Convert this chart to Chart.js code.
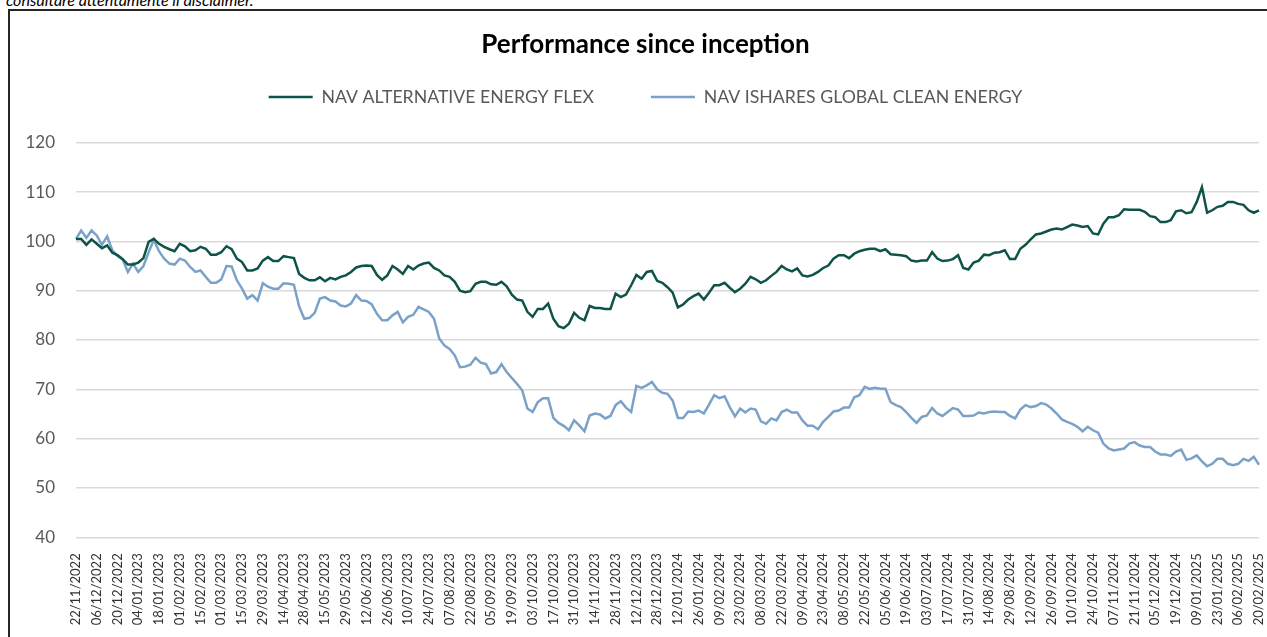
<!DOCTYPE html>
<html lang="it">
<head>
<meta charset="utf-8">
<title>Performance since inception</title>
<script src="https://cdn.jsdelivr.net/npm/chart.js@4/dist/chart.umd.min.js"></script>
<style>
  html, body {
    margin: 0;
    padding: 0;
    background: #ffffff;
    overflow: hidden;
  }
  .note {
    position: absolute;
    left: 6px;
    top: -8px;
    font-family: "Lato", sans-serif;
    font-style: italic;
    font-size: 16px;
    line-height: 16px;
    color: #000000;
    white-space: nowrap;
  }
  .frame {
    position: absolute;
    left: 8px;
    top: 9px;
    width: 1400px;
    height: 800px;
    border: 2px solid #262626;
  }
  #perfChart {
    position: absolute;
    left: 0;
    top: 0;
  }
</style>
</head>
<body>
<div class="note">consultare attentamente il disclaimer.</div>
<div class="frame"></div>
<canvas id="perfChart" width="1267" height="637"></canvas>

<script>
/* =============================================
   Performance since inception - NAV vs benchmark
   ============================================= */

// x-axis labels: one every 10 trading days
const tickLabels = [
  "22/11/2022", "06/12/2022", "20/12/2022", "04/01/2023", "18/01/2023",
  "01/02/2023", "15/02/2023", "01/03/2023", "15/03/2023", "29/03/2023",
  "14/04/2023", "28/04/2023", "15/05/2023", "29/05/2023", "12/06/2023",
  "26/06/2023", "10/07/2023", "24/07/2023", "07/08/2023", "22/08/2023",
  "05/09/2023", "19/09/2023", "03/10/2023", "17/10/2023", "31/10/2023",
  "14/11/2023", "28/11/2023", "12/12/2023", "28/12/2023", "12/01/2024",
  "26/01/2024", "09/02/2024", "23/02/2024", "08/03/2024", "22/03/2024",
  "09/04/2024", "23/04/2024", "08/05/2024", "22/05/2024", "05/06/2024",
  "19/06/2024", "03/07/2024", "17/07/2024", "31/07/2024", "14/08/2024",
  "29/08/2024", "12/09/2024", "26/09/2024", "10/10/2024", "24/10/2024",
  "07/11/2024", "21/11/2024", "05/12/2024", "19/12/2024", "09/01/2025",
  "23/01/2025", "06/02/2025", "20/02/2025",
];

// 4 readings between two labels (every ~2.5 trading days)
const POINTS_PER_TICK = 4;

// NAV ALTERNATIVE ENERGY FLEX (base 100)
const navFlex = [
  100.5, 100.5, 99.3, 100.4, 99.5, 98.6, 99.2, 97.7, 97.2, 96.4,
  95.3, 95.3, 95.7, 96.6, 99.9, 100.5, 99.5, 98.9, 98.4, 98.0,
  99.5, 99.0, 98.0, 98.2, 98.9, 98.5, 97.3, 97.3, 97.8, 99.0,
  98.4, 96.5, 95.8, 94.1, 94.1, 94.5, 96.1, 96.8, 96.0, 96.0,
  97.0, 96.8, 96.6, 93.4, 92.6, 92.1, 92.1, 92.7, 91.9, 92.6,
  92.3, 92.8, 93.1, 93.8, 94.7, 95.0, 95.1, 95.0, 93.2, 92.2,
  93.1, 95.0, 94.3, 93.4, 95.0, 94.3, 95.1, 95.5, 95.7, 94.6,
  94.1, 93.1, 92.8, 91.8, 90.0, 89.7, 89.9, 91.4, 91.8, 91.8,
  91.3, 91.2, 91.8, 90.9, 89.2, 88.2, 88.0, 85.7, 84.7, 86.3,
  86.3, 87.4, 84.3, 82.8, 82.4, 83.3, 85.5, 84.5, 84.0, 86.9,
  86.5, 86.5, 86.3, 86.3, 89.4, 88.7, 89.2, 91.1, 93.2, 92.4,
  93.8, 94.0, 92.0, 91.6, 90.7, 89.6, 86.6, 87.2, 88.2, 88.9,
  89.4, 88.2, 89.6, 91.1, 91.1, 91.6, 90.6, 89.7, 90.4, 91.4,
  92.8, 92.3, 91.6, 92.1, 93.0, 93.8, 95.0, 94.3, 93.9, 94.5,
  93.1, 92.9, 93.2, 93.8, 94.6, 95.1, 96.5, 97.2, 97.2, 96.6,
  97.5, 98.0, 98.3, 98.5, 98.5, 98.0, 98.4, 97.4, 97.3, 97.2,
  97.0, 96.1, 95.9, 96.1, 96.1, 97.8, 96.5, 96.0, 96.1, 96.4,
  97.2, 94.6, 94.3, 95.7, 96.1, 97.3, 97.2, 97.7, 97.8, 98.2,
  96.4, 96.4, 98.5, 99.3, 100.4, 101.4, 101.6, 102.0, 102.4, 102.6,
  102.4, 102.9, 103.4, 103.2, 102.9, 103.1, 101.6, 101.4, 103.6, 104.9,
  104.9, 105.3, 106.5, 106.4, 106.4, 106.4, 106.0, 105.1, 104.9, 103.9,
  103.9, 104.3, 106.1, 106.3, 105.7, 105.9, 108.0, 111.0, 105.8, 106.3,
  107.0, 107.2, 108.0, 108.0, 107.6, 107.4, 106.3, 105.8, 106.3,
];

// NAV ISHARES GLOBAL CLEAN ENERGY (base 100)
const navClean = [
  100.5, 102.2, 100.7, 102.2, 101.2, 99.3, 101.0, 98.2, 97.0, 96.3,
  93.8, 95.5, 93.8, 95.0, 97.8, 100.3, 98.0, 96.5, 95.5, 95.3,
  96.5, 96.1, 94.8, 93.8, 94.1, 92.8, 91.6, 91.6, 92.3, 95.0,
  94.9, 92.1, 90.4, 88.4, 89.1, 88.0, 91.5, 90.8, 90.4, 90.4,
  91.5, 91.4, 91.2, 86.8, 84.3, 84.5, 85.5, 88.4, 88.7, 88.0,
  87.8, 87.0, 86.8, 87.4, 89.1, 88.0, 87.9, 87.2, 85.3, 84.0,
  84.0, 85.0, 85.7, 83.6, 84.7, 85.1, 86.7, 86.2, 85.7, 84.3,
  80.3, 78.9, 78.2, 76.9, 74.5, 74.6, 75.0, 76.4, 75.4, 75.1,
  73.2, 73.5, 75.1, 73.5, 72.3, 71.1, 69.8, 66.1, 65.4, 67.4,
  68.2, 68.2, 64.2, 63.2, 62.6, 61.7, 63.7, 62.7, 61.5, 64.7,
  65.1, 64.9, 64.1, 64.6, 66.8, 67.6, 66.3, 65.4, 70.7, 70.3,
  70.8, 71.5, 70.0, 69.3, 69.1, 67.7, 64.2, 64.2, 65.5, 65.4,
  65.7, 65.1, 66.9, 68.8, 68.2, 68.6, 66.4, 64.5, 66.1, 65.3,
  66.1, 65.9, 63.5, 63.0, 64.1, 63.7, 65.4, 65.9, 65.3, 65.3,
  63.7, 62.6, 62.6, 61.9, 63.4, 64.4, 65.5, 65.7, 66.3, 66.3,
  68.4, 68.8, 70.5, 70.1, 70.3, 70.1, 70.1, 67.4, 66.8, 66.4,
  65.4, 64.2, 63.2, 64.4, 64.7, 66.2, 65.1, 64.6, 65.4, 66.2,
  65.9, 64.6, 64.6, 64.7, 65.3, 65.1, 65.4, 65.5, 65.4, 65.4,
  64.6, 64.1, 65.9, 66.8, 66.4, 66.6, 67.2, 66.9, 66.1, 65.1,
  63.9, 63.4, 63.0, 62.4, 61.5, 62.4, 61.7, 61.2, 59.0, 58.0,
  57.6, 57.8, 58.0, 59.0, 59.3, 58.6, 58.3, 58.3, 57.4, 56.8,
  56.8, 56.5, 57.4, 57.8, 55.7, 56.0, 56.6, 55.4, 54.4, 54.9,
  55.9, 55.9, 54.9, 54.6, 54.9, 55.9, 55.5, 56.3, 54.7,
];

const seriesNames = ["NAV ALTERNATIVE ENERGY FLEX", "NAV ISHARES GLOBAL CLEAN ENERGY"];
const seriesColors = ["#0e5347", "#7aa2c9"];

// category labels: only every 4th point carries a date
const labels = navFlex.map((_, i) =>
  i % POINTS_PER_TICK === 0 ? tickLabels[i / POINTS_PER_TICK] : "",
);

const FONT = "Lato";

const perfChart = new Chart(document.getElementById("perfChart"), {
  type: "line",
  data: {
    labels,
    datasets: [navFlex, navClean].map((values, i) => ({
      label: seriesNames[i],
      data: values,
      borderColor: seriesColors[i],
      backgroundColor: seriesColors[i],
      borderWidth: 2.5,
      pointRadius: 0,
      tension: 0,
      fill: false,
    })),
  },
  options: {
    responsive: false,
    animation: false,
    layout: {
      padding: { left: 25, right: 1, top: 0, bottom: 0 },
    },
    plugins: {
      title: {
        display: true,
        text: "Performance since inception",
        color: "#000000",
        font: { family: FONT, size: 26, weight: "bold", lineHeight: 1.2 },
        padding: { top: 29.4, bottom: -29.45 },
      },
      legend: {
        position: "top",
        labels: {
          color: "#595959",
          font: { family: FONT, size: 17.7 },
          boxWidth: 44,
          boxHeight: 0,
          padding: 57,
        },
      },
      // empty spacer between legend and plot area
      subtitle: {
        display: true,
        text: "",
        position: "top",
        weight: 500,
        font: { size: 1, lineHeight: 1 },
        padding: { top: 0, bottom: 25.85 },
      },
      tooltip: { enabled: false },
    },
    scales: {
      x: {
        grid: { display: false },
        border: { display: false },
        ticks: {
          autoSkip: false,
          minRotation: 90,
          maxRotation: 90,
          padding: 8,
          color: "#333333",
          font: { family: FONT, size: 13 },
          callback: (value, index) => labels[index],
        },
        // keep the plot edge-to-edge and the label band fixed
        afterFit: (scale) => {
          scale.paddingLeft = 0;
          scale.paddingRight = 8;
          scale.height = 99.7;
        },
      },
      y: {
        min: 40,
        max: 120,
        border: { display: false },
        grid: { color: "#d9d9d9", lineWidth: 1.5, drawTicks: false },
        ticks: {
          stepSize: 10,
          padding: 21,
          color: "#595959",
          font: { family: FONT, size: 17 },
        },
        afterFit: (scale) => {
          scale.width = 51;
        },
      },
    },
  },
});
</script>
</body>
</html>
